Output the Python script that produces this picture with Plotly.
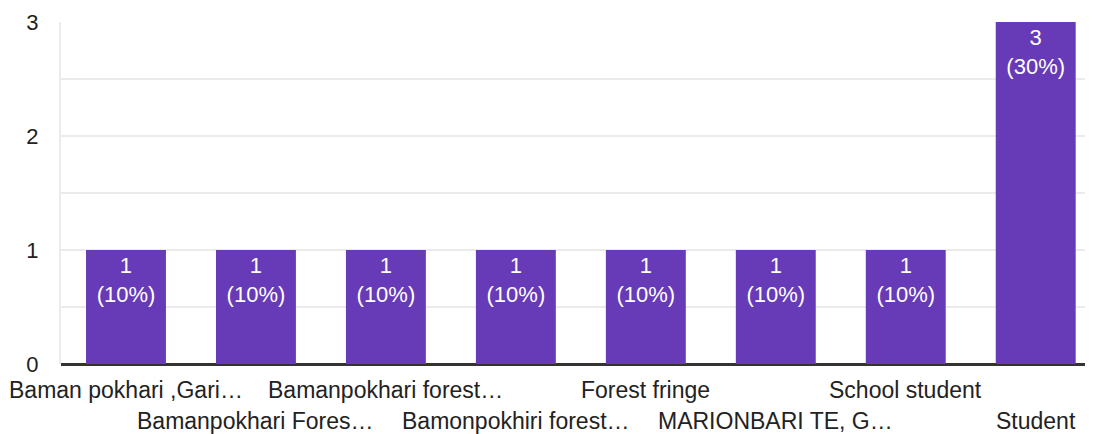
import plotly.graph_objects as go

categories = ["Baman pokhari ,Gari…", "Bamanpokhari Fores…", "Bamanpokhari forest…",
              "Bamonpokhiri forest…", "Forest fringe", "MARIONBARI TE, G…",
              "School student", "Student"]
counts = [1, 1, 1, 1, 1, 1, 1, 3]
percents = [10, 10, 10, 10, 10, 10, 10, 30]
y_ticks = [0, 0.5, 1, 1.5, 2, 2.5, 3]
y_ticktext = ["0", "", "1", "", "2", "", "3"]

FONT = "Liberation Sans, Arial, sans-serif"
x_idx = list(range(len(categories)))

fig = go.Figure(go.Bar(
    x=x_idx, y=counts,
    marker=dict(color="#673ab7", line=dict(width=0)),
    text=[f"{c}<br>({p}%)" for c, p in zip(counts, percents)],
    textposition="inside", insidetextanchor="end",
    textfont=dict(color="white", size=22, family=FONT),
    textangle=0, cliponaxis=False,
))

annotations = []
for i, lab in enumerate(categories):
    annotations.append(dict(
        x=i, y=0, xref="x", yref="paper", text=lab, showarrow=False,
        xanchor="center", yanchor="middle",
        yshift=-26 if i % 2 == 0 else -57,
        font=dict(size=23, color="#222222", family=FONT),
    ))

# page body has an 8px default margin; size the figure to fit the window
fig.update_layout(
    width=1085, height=426,
    margin=dict(l=53, r=4, t=14, b=70, autoexpand=False),
    paper_bgcolor="white", plot_bgcolor="white",
    bargap=0.385, showlegend=False,
    font=dict(family=FONT, size=22, color="#222222"),
    uniformtext=dict(minsize=10, mode="show"),
    annotations=annotations,
    xaxis=dict(range=[-0.5, 7.41], showticklabels=False, showgrid=False,
               zeroline=False, showline=False, ticks="", automargin=False),
    yaxis=dict(range=[0, 3], tickvals=y_ticks, ticktext=y_ticktext,
               showgrid=True, gridcolor="#ebebeb", gridwidth=2,
               zeroline=True, zerolinecolor="#333333", zerolinewidth=3,
               showline=True, linecolor="#ebebeb", linewidth=2,
               ticks="", ticklabelstandoff=16, automargin=False,
               tickfont=dict(size=22, color="#222222", family=FONT)),
)

fig.write_html("out.html")
